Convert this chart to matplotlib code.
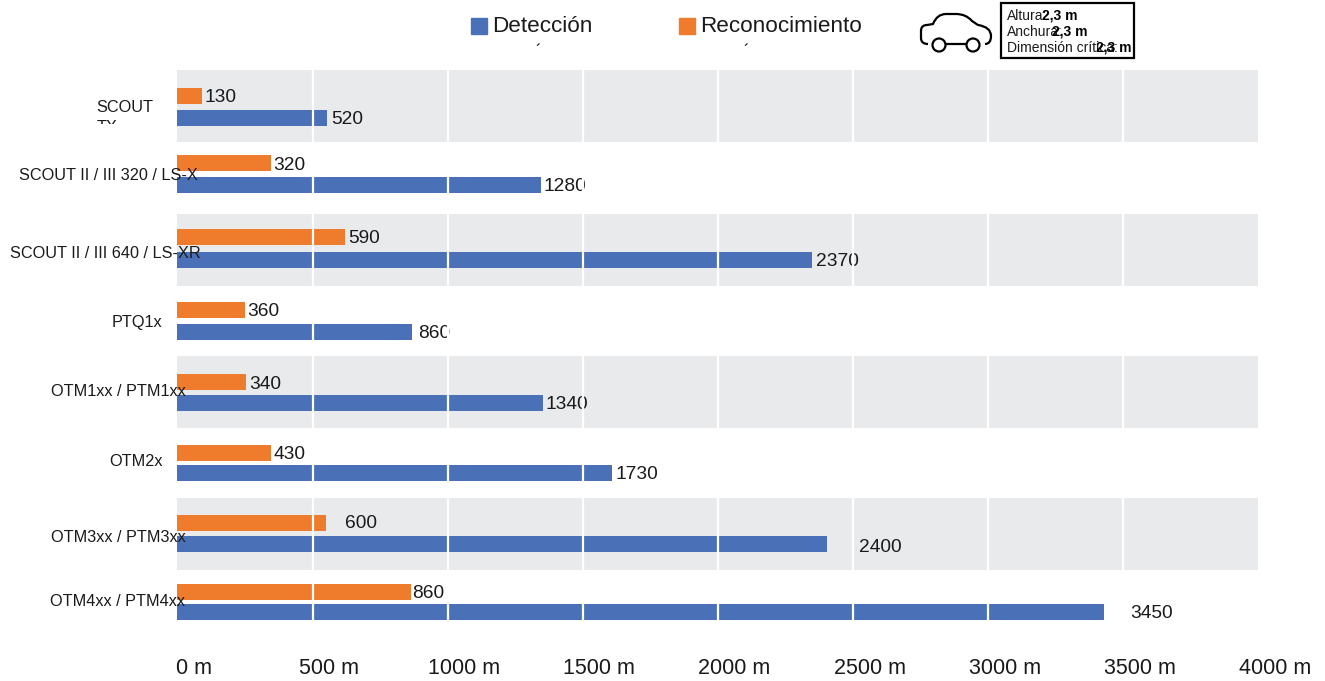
import matplotlib
matplotlib.use('Agg')
import matplotlib.pyplot as plt
from matplotlib.patches import PathPatch, Rectangle, Circle
from matplotlib.path import Path
from matplotlib.transforms import ScaledTranslation, Bbox

W, H = 1325, 681

modelos = ['SCOUT', 'SCOUT II / III 320 / LS-X', 'SCOUT II / III 640 / LS-XR', 'PTQ1x',
           'OTM1xx / PTM1xx', 'OTM2x', 'OTM3xx / PTM3xx', 'OTM4xx / PTM4xx']
# longitud de las barras (no coincide del todo con las etiquetas)
deteccion = [555, 1346, 2348, 869, 1354, 1609, 2404, 3431]
reconocimiento = [92, 348, 621, 251, 255, 348, 551, 865]
# numeros impresos
det_labels = ['520', '1280', '2370', '860', '1340', '1730', '2400', '3450']
rec_labels = ['130', '320', '590', '360', '340', '430', '600', '860']
xticks = [0, 500, 1000, 1500, 2000, 2500, 3000, 3500, 4000]
xtick_labels = ['0 m', '500 m', '1000 m', '1500 m', '2000 m', '2500 m', '3000 m', '3500 m', '4000 m']

AZUL = '#4a71b8'
NARANJA = '#ef7b2d'
GRIS = '#e9eaec'
TEXTO = '#1a1a1a'

plt.rcParams['font.family'] = ['Liberation Sans', 'DejaVu Sans']

fig = plt.figure(figsize=(W / 100, H / 100), dpi=100)
ax = fig.add_axes([177 / W, 1 - 641 / H, (1258 - 177) / W, (641 - 70) / H])
ax.set_xlim(0, 4000)
ax.set_ylim(7.5, -0.5)
for s in ax.spines.values():
    s.set_visible(False)
ax.set_yticks([])


def fila(p):
    # pixel vertical -> posicion en filas
    return (p - 70) / 71.375 - 0.5


def px(x, y):
    return x / W, 1 - y / H


# las filas no estan del todo a la misma distancia en el original
centro_rec = [96, 163, 237, 310, 382, 453, 523, 592]
centro_det = [118, 185, 260, 332, 403, 473, 544, 612]
bandas = [(70, 142), (214, 286), (356, 428), (498, 570)]
y_label_px = [108, 175, 253, 323, 392, 461, 537, 601]
gap_det = [4, 3, 4, 6, 3, 4, 32, 26]
gap_rec = [3, 2, 3, 2, 3, 2, 19, 1]
baja_det = [1, 1, 1, 1, 1, 1, 3, 1]
baja_rec = [1, 2, 1, 1, 2, 1, 0, 1]
alto = 16 / 71.375

for a, b in bandas:
    ax.axhspan(fila(a), fila(b), color=GRIS, lw=0, zorder=1)

for i in range(8):
    yr = fila(centro_rec[i])
    yd = fila(centro_det[i])
    ax.barh(yr, reconocimiento[i], height=alto, color=NARANJA, zorder=2)
    ax.barh(yd, deteccion[i], height=alto, color=AZUL, zorder=2)
    ax.annotate(rec_labels[i], (reconocimiento[i], yr), xytext=(gap_rec[i] * 0.72, -0.7 - baja_rec[i] * 0.72),
                textcoords='offset points', va='center', ha='left', fontsize=13.8, color=TEXTO, zorder=3)
    ax.annotate(det_labels[i], (deteccion[i], yd), xytext=(gap_det[i] * 0.72, -0.7 - baja_det[i] * 0.72),
                textcoords='offset points', va='center', ha='left', fontsize=13.8, color=TEXTO, zorder=3)

# las lineas blancas pasan por encima de barras y numeros
for x in xticks[1:-1]:
    ax.axvline(x + 1.5, color='white', lw=1.6, zorder=5)

ax.set_xticks(xticks)
ax.set_xticklabels(xtick_labels, fontsize=15.5, color=TEXTO)
ax.tick_params(axis='x', length=0, pad=12.5)
desplaza = ScaledTranslation(17 / 100, 0, fig.dpi_scale_trans)
for t in ax.get_xticklabels():
    t.set_transform(t.get_transform() + desplaza)

# nombres de los modelos, sobre las barras
x_label_px = [125, 108, 105, 137, 118, 136, 118, 118]
for i, nombre in enumerate(modelos):
    fig.text(*px(x_label_px[i], y_label_px[i]), nombre, fontsize=11.7, color=TEXTO, ha='center', va='center', zorder=10)

# segunda linea del primer nombre, cortada
t = fig.text(*px(107, 128), 'TX', fontsize=11.7, color=TEXTO, ha='center', va='center', zorder=10)
t.set_clip_on(True)
t.set_clip_box(Bbox([[80, H - 124], [180, H - 90]]))

# leyenda
fig.add_artist(Rectangle(px(471, 34), 16 / W, 16 / H, color=AZUL, transform=fig.transFigure))
fig.add_artist(Rectangle(px(679, 34), 16 / W, 16 / H, color=NARANJA, transform=fig.transFigure))
fig.text(*px(492, 26), 'Detección', fontsize=16.2, color=TEXTO, va='center')
fig.text(*px(700, 26), 'Reconocimiento', fontsize=16.2, color=TEXTO, va='center')
fig.text(*px(538, 52), '´', fontsize=12, color='black', ha='center', va='center')
fig.text(*px(746, 52), '´', fontsize=12, color='black', ha='center', va='center')

# icono del coche
verts = [(928, 44), (921, 44), (921, 38), (921, 31), (921, 25), (927, 25), (933, 24),
         (937, 14), (946, 14), (956, 14), (966, 14), (972, 21), (978, 25),
         (991, 27), (991, 36), (991, 44), (985, 44)]
codes = [Path.MOVETO, Path.CURVE3, Path.CURVE3, Path.LINETO, Path.CURVE3, Path.CURVE3, Path.LINETO,
         Path.CURVE3, Path.CURVE3, Path.LINETO, Path.CURVE3, Path.CURVE3, Path.LINETO,
         Path.CURVE3, Path.CURVE3, Path.CURVE3, Path.CURVE3]
fig.add_artist(PathPatch(Path([px(*v) for v in verts], codes), fc='none', ec='black', lw=1.6,
                         transform=fig.transFigure, joinstyle='round'))
fig.add_artist(PathPatch(Path([px(945, 44), px(967, 44)], [Path.MOVETO, Path.LINETO]), fc='none', ec='black', lw=1.6,
                         transform=fig.transFigure))
for cx in (939, 973):
    fig.add_artist(Circle((cx, H - 45), 6.5, fc='white', ec='black', lw=1.6, transform=None, zorder=4))

# recuadro de dimensiones
fig.add_artist(Rectangle(px(1001, 58), 133 / W, 55 / H, fc='white', ec='black', lw=1.6, transform=fig.transFigure))
for y, izq, val, xv in [(16, 'Altura:', '2,3 m', 1042), (32, 'Anchura:', '2,3 m', 1052), (48, 'Dimensión crítica:', '2,3 m', 1096)]:
    fig.text(*px(1007, y), izq, fontsize=10, color=TEXTO, va='center', zorder=6)
    fig.text(*px(xv, y), val, fontsize=10, color='black', weight='bold', va='center', zorder=6)

fig.savefig('out.png', dpi=100)
